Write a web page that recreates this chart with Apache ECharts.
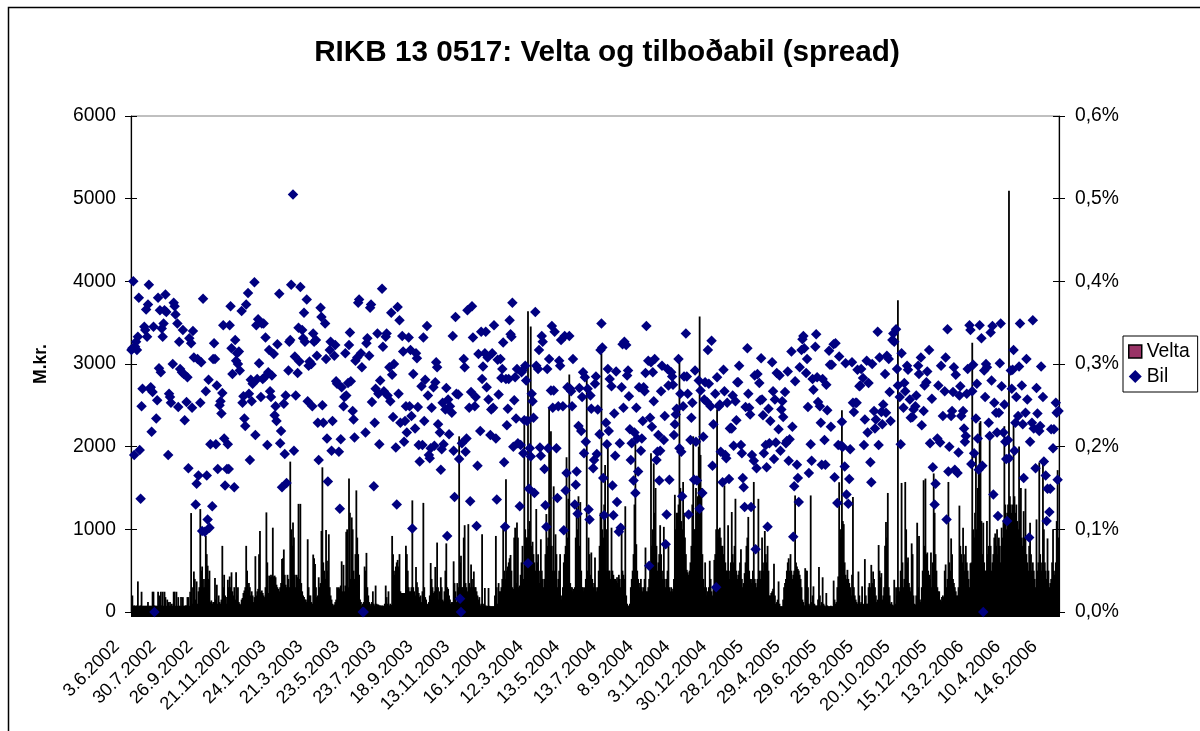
<!DOCTYPE html>
<html><head><meta charset="utf-8">
<style>html,body{margin:0;padding:0;background:#fff}#c{width:1200px;height:731px}</style>
<script src="https://cdn.jsdelivr.net/npm/echarts@6/dist/echarts.min.js"></script>
</head><body><div id="c"></div>
<script>
const tickLabels=['3.6.2002','30.7.2002','26.9.2002','21.11.2002','24.1.2003','21.3.2003','23.5.2003','23.7.2003','18.9.2003','13.11.2003','16.1.2004','12.3.2004','13.5.2004','13.7.2004','8.9.2004','3.11.2004','30.12.2004','28.2.2005','29.4.2005','29.6.2005','25.8.2005','20.10.2005','15.12.2005','13.2.2006','10.4.2006','14.6.2006'];
// Velta (M.kr.), grouped in rows of about 40 trading days
const velta=[
[80,200,75,80,75,75,80,370,75,75,80,245,75,75,75,75,75,75,120,75,75,75,75,245,245,80,75,75,75,245,90,200,245,80,245,75,245,180,75,150],
[120,75,120,80,100,75,245,245,75,245,75,180,75,75,180,75,180,75,75,80,80,180,180,75,245,1197,300,100,490,400,150,370,100,250,300,1245,500,550,300,400],
[300,920,700,560,400,500,120,140,100,120,120,410,150,330,100,200,120,100,150,800,300,450,200,180,100,390,300,430,300,480,250,200,300,150,480,200,300,120,100,90],
[150,170,230,260,300,800,500,270,350,300,200,250,200,120,180,675,200,250,280,700,980,240,260,230,200,180,300,1205,600,230,440,420,450,430,1020,430,440,420,330,300,280],
[250,300,350,640,650,756,450,330,300,450,400,300,1819,1000,800,1083,900,450,300,450,420,1308,400,1308,350,250,200,180,150,150,120,880,300,200,200,120,100,695,650,580],
[300,180,200,420,300,350,980,1750,600,500,400,993,620,500,940,300,200,150,100,80,90,120,150,300,280,300,280,320,613,250,570,250,320,970,1000,300,1614,1200,400,1144],
[1000,500,400,700,1471,900,700,450,150,120,80,100,120,550,500,715,300,200,120,80,100,120,250,100,80,320,100,90,90,80,80,75,80,75,75,100,320,180,100,250],
[80,100,85,920,700,500,450,550,600,630,550,700,250,230,230,230,230,230,800,700,500,300,250,250,300,1350,300,250,200,543,360,300,230,180,200,120,250,1320,300,180,150],
[100,90,120,200,593,400,300,230,250,545,300,840,300,150,250,420,300,150,130,250,500,830,300,280,200,150,100,120,120,613,350,250,120,350,300,2125,600,680,300,300],
[900,1050,350,300,250,1063,350,300,575,400,300,490,300,300,250,200,150,180,80,100,940,100,80,290,80,70,75,290,75,70,70,70,70,70,200,920,300,100,350,250],
[250,300,400,1050,500,400,1606,500,550,600,650,690,500,300,280,900,1020,350,1083,900,300,320,450,600,800,400,2268,1000,900,900,3637,1000,1100,3453,800,850,700,600,500,1246,600],
[700,500,350,880,500,400,300,400,700,1185,800,900,2472,800,2186,800,500,1520,500,940,700,300,400,500,700,200,150,300,600,700,800,1872,900,1370,2873,350,300,300,250,280],
[300,900,1300,1000,1400,800,1330,500,300,300,250,300,400,2820,500,900,700,450,720,400,300,350,660,300,250,300,500,800,1200,3126,1000,900,1300,1778,500,1000,2015,500,500,400],
[1020,500,450,400,400,380,420,350,450,400,300,1063,500,450,400,1279,200,100,70,80,100,300,400,500,700,1300,2084,820,500,400,300,350,400,300,250,300,400,780,250,250],
[300,400,600,1920,800,1000,1798,1200,1500,800,500,600,700,1050,700,500,400,1030,400,300,400,500,800,300,250,300,250,280,400,1418,1000,1200,1200,1300,3024,1500,1100,1000,1573,1200,900],
[700,510,480,450,500,600,800,1300,2125,1000,1000,1500,1200,1400,2000,3576,1900,1500,700,400,300,600,300,200,250,300,620,400,250,200,300,630,700,1000,2452,900,1000,1020,900,800],
[800,700,1532,600,500,500,1050,500,400,600,1210,700,600,800,1370,500,400,450,500,600,760,400,300,350,470,600,800,900,1150,500,400,350,400,500,1573,400,350,300,400,1369],
[500,400,500,900,600,500,980,700,600,800,500,200,200,230,250,280,585,200,100,120,150,370,100,70,70,70,150,300,350,400,500,600,650,500,700,500,400,450,500,1410,600],
[550,520,500,450,400,300,150,120,80,530,500,500,300,100,80,1410,120,200,310,100,80,75,80,150,545,200,80,120,420,100,80,70,230,80,70,70,70,75,70,70],
[380,150,100,120,300,430,1570,1000,900,2440,1100,1063,600,450,400,510,400,350,300,200,450,1390,300,200,150,120,100,490,200,100,120,310,100,90,640,200,100,100,300,350],
[300,570,350,490,400,300,200,120,150,810,500,420,470,150,200,300,800,1090,900,1440,300,200,100,120,90,80,390,100,300,200,3772,300,250,500,1561,600,300,400,1573,1000],
[600,660,350,300,250,830,700,200,100,90,200,1080,300,920,150,120,300,500,1594,800,1614,700,720,500,450,400,720,300,600,1676,1200,700,500,300,250,250,150,130,180,200,180],
[500,575,300,400,1573,600,500,890,700,400,350,300,250,200,200,300,1287,800,700,600,1020,700,500,800,600,500,400,300,590,600,3257,1000,900,1200,1900,1000,1500,1700,2289,2309],
[1100,700,1080,600,500,500,1100,700,800,2105,800,500,600,700,900,950,800,1000,700,900,800,600,1020,900,1100,2248,1300,1000,1200,1300,5096,1400,1300,1200,1300,2276,1400,1200,1300,1100],
[1000,2003,1100,1500,900,800,1220,900,1492,700,600,500,800,1080,700,500,600,500,400,300,1120,500,600,1810,700,500,600,1839,1000,600,500,400,890,500,300,350,400,600,1000,500,450],
[600,1100,1716,900]
];
// Bil (spread) in thousandths of a percent, in date order, one row per row of velta
const bil=[
[317,319,400,190,321,327,317,333,380,196,137,249,270,345,341,366,333,372,396,270,272,218,266,345,0,234,256,380,295,365,290,343,333,349,365,384,363],
[190,264,260,253,300,374,370,360,349,248,327,294,290,341,288,232,254,284,174,331,325,247,340,308,130,155,306,165,253,302,98,379],
[97,267,165,112,281,102,203,128,306,325,306,203,274,173,250,255,240,265,347,210,153,173,203,173,347,370,319,288,151,329,304,313,300,315,292],
[364,253,261,234,225,372,386,264,184,281,255,276,399,214,347,282,354,301,260,349,282,349,284,332,202,290,317,267,260,286,312,238,249,231,324],
[385,204,219,151,252,191,262,156,292,327,329,396,505,195,309,262,289,344,303,393,341,331,362,327,378,255,298,303,300,249,337,327],
[329,310,229,184,368,357,250,229,349,306,210,158,317,327,195,231,310,323,279,276,194,125,209,272,249,260,313,262,277,323,338,279],
[243,233,211,304,308,374,378,313,296,0,0,217,325,331,310,368,372,254,152,229,270,337,264,203,280,391,321,267,333,337,262],
[296,255,362,287,236,300,199,130,369,264,353,229,334,315,206,231,249,217,332,249,317,237,101,288,222,313,307,248,202,182,273,202,332,231,281],
[346,262,190,186,198,247,272,201,278,302,296,227,217,172,197,253,203,245,271,92,257,215,249,241,334,195,139,357,264,263,185,16,0,204],
[306,296,194,210,365,247,134,266,370,332,249,260,104,177,312,219,339,282,297,313,339,272,308,257,214,245,313,247,347,210,136,305,263],
[306,283,294,326,181,103,282,226,246,282,353,336,333,374,200,256,284,234,294,204,128,202,290,292,192,232,298,280,231,59,149,198,188,264,255,235,144,363,298],
[294,317,199,189,334,327,173,129,103,294,198,306,268,346,247,268,339,198,138,249,304,298,329,249,99,334,147,168,272,334,270,267,249,306],
[130,154,170,119,225,271,219,260,290,192,284,206,270,124,112,262,246,174,184,276,285,191,245,215,317,349,320,162,117,229,203,294,219,282],
[273,153,117,240,189,291,133,97,204,102,272,324,247,327,323,286,292,261,221,184,204,159,217,144,247,210,170,272,195,210,231,272,267,289,346],
[304,56,235,302,224,290,255,306,184,194,214,159,195,267,298,208,237,82,118,294,274,160,290,285,275,214,227,239,246,306,198,264,194,140,249,285],
[337,285,264,118,208,235,253,160,292,206,159,280,125,268,144,212,257,278,254,317,276,249,328,177,227,264,30,284,249,251,194],
[157,293,267,190,186,253,161,222,223,222,262,201,255,232,278,278,298,202,192,162,151,127,248,319,264,247,239,127,190,183,286,76,174,288],
[277,256,307,257,238,192,202,175,103,246,204,231,302,267,185,257,205,289,221,286,195,245,255,236,266,204,207,291,183,209,315,224,91,152,279],
[178,162,133,296,317,330,334,319,289,306,248,168,203,183,282,269,321,336,284,254,249,229,178,282,208,178,275,244,316,299,224,299],
[324,163,325,132,202,309,201,230,200,176,301,142,131,161,197,302,253,242,253,253,293,273,274,294,283,202,233,304,217,277],
[181,157,300,243,222,233,339,202,308,242,227,251,288,241,310,306,266,231,329,337,327,342,294,274,260,203,313,247,277,267],
[298,293,257,235,236,245,249,262,298,288,308,226,243,274,278,291,317,204,258,175,130,155,210,274,205,298,237],
[267,308,112,342,170,200,237,243,266,296,172,287,168,193,262,273,237,243,222,206,213,264,294,347,341,179,267,299,192,234,276,210,172,347],
[331,177,0,292,260,300,296,229,213,338,280,346,142,253,241,217,116,241,301,349,273,217,251,206,185,110,208,186,292,270,293,317,195,229,260],
[237,297,349,274,227,162,241,306,257,90,206,229,353,222,174,271,240,219,225,297,260,182,165,110,149,121,149,221,198,221],
[253,241,160,243]
];
const veltaAll=velta.flat();
const categories=veltaAll.map((_,i)=>i%40===0?tickLabels[i/40]:'');
const bilPoints=[];
let rowStart=0;
bil.forEach((row,r)=>{
  const span=velta[r].length;
  row.forEach((v,j)=>bilPoints.push([rowStart+Math.floor(j*span/row.length),v/1000]));
  rowStart+=span;
});
const F='"Liberation Sans",Arial,sans-serif';
const LBL={color:'#000',fontFamily:F,fontSize:19.3};
const comma=v=>v.toFixed(1).replace('.',',')+'%';
const chart=echarts.init(document.getElementById('c'),null,{renderer:'canvas'});
const innerTicks=(position,max,interval)=>({type:'value',min:0,max,interval,position,
  axisLine:{show:false},axisTick:{show:true,inside:true,length:6,lineStyle:{color:'#000'}},
  axisLabel:{show:false},splitLine:{show:false}});
chart.setOption({
  animation:false,
  backgroundColor:'#fff',
  graphic:[{type:'rect',shape:{x:8.5,y:7.5,width:1300,height:900},style:{fill:'none',stroke:'#000',lineWidth:1.5},silent:true}],
  title:{text:'RIKB 13 0517: Velta og tilboðabil (spread)',left:602,top:33,textAlign:'center',
    textStyle:{fontFamily:F,fontSize:29.7,fontWeight:'bold',color:'#000'}},
  legend:{orient:'vertical',left:1123,top:336,padding:[6,8,6,5],itemGap:6,itemWidth:13,itemHeight:13,
    borderColor:'#000',borderWidth:1,backgroundColor:'#fff',
    textStyle:{fontFamily:F,fontSize:19.3,color:'#000',padding:[0,0,0,0]},
    data:[{name:'Velta',icon:'rect',itemStyle:{color:'#993366',borderColor:'#000',borderWidth:1.5}},
          {name:'Bil',icon:'diamond',itemStyle:{color:'#000080',borderWidth:0}}]},
  grid:{left:131,right:141,top:116,bottom:119,show:true,borderColor:'#808080',borderWidth:1,containLabel:false},
  xAxis:{type:'category',data:categories,boundaryGap:true,
    axisLine:{lineStyle:{color:'#000',width:1}},
    axisTick:{show:true,interval:0,length:5,inside:false,lineStyle:{color:'#000',width:1}},
    axisLabel:{...LBL,fontSize:18.2,interval:39,rotate:45,margin:17,padding:[0,21,0,0],hideOverlap:false},
    splitLine:{show:false}},
  yAxis:[
    {type:'value',min:0,max:6000,interval:1000,position:'left',name:'M.kr.',nameLocation:'middle',nameGap:81,
     nameTextStyle:{fontFamily:F,fontSize:17.5,fontWeight:'bold',color:'#000'},
     axisLine:{show:true,onZero:false,lineStyle:{color:'#000',width:1.2}},
     axisTick:{show:true,length:6,lineStyle:{color:'#000'}},
     axisLabel:{...LBL,margin:15,formatter:v=>String(v)},splitLine:{show:false}},
    {type:'value',min:0,max:0.6,interval:0.1,position:'right',
     axisLine:{show:true,onZero:false,lineStyle:{color:'#000',width:1.2}},
     axisTick:{show:true,length:6,lineStyle:{color:'#000'}},
     axisLabel:{...LBL,margin:16,formatter:comma},splitLine:{show:false}},
    innerTicks('left',6000,1000),
    innerTicks('right',0.6,0.1)
  ],
  series:[
    {name:'Velta',type:'bar',data:veltaAll,yAxisIndex:0,barWidth:1.8,itemStyle:{color:'#000'},z:2},
    {name:'Bil',type:'scatter',data:bilPoints,yAxisIndex:1,symbol:'diamond',symbolSize:10.5,itemStyle:{color:'#000080',opacity:1},clip:false,z:3}
  ]
});
</script></body></html>
